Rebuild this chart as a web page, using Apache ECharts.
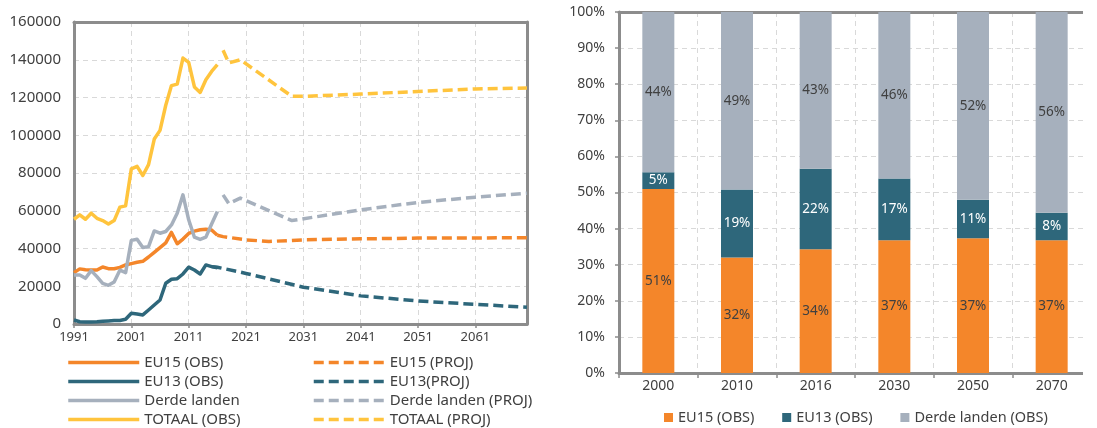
<!DOCTYPE html>
<html><head><meta charset="utf-8">
<script src="https://cdn.jsdelivr.net/npm/echarts@6/dist/echarts.min.js"></script>
<style>html,body{margin:0;padding:0;background:#fff}#c{width:1097px;height:428px}</style>
</head><body><div id="c"></div>
<script>
// ---------- LEFT CHART DATA ----------
const firstYear = 1991, lastYear = 2070;
const years = [];
for (let y = firstYear; y <= lastYear; y++) years.push(String(y));
// observed, yearly 1991..2016
const eu15Obs   = [27200,29200,28800,28600,28600,30200,29300,29300,30000,31300,32000,32700,33200,35500,38000,40500,43000,48500,42500,45000,48000,49200,49900,50200,49800,47000];
const eu13Obs   = [2100,1200,1100,1100,1200,1400,1600,1800,1900,2500,5700,5300,4800,7400,10100,12700,21600,23700,24000,26500,30100,28600,26500,31300,30400,29800];
const derdeObs  = [26000,26000,24200,28300,25100,21500,20500,22300,28500,27200,44300,44900,40500,41000,49300,48100,49000,52500,58700,68400,55200,46000,44800,46000,53000,59600];
const totaalObs = [55500,57800,55500,58700,56000,54800,53000,54800,61900,62600,82200,83500,78700,84400,98000,102600,115900,126300,127100,140900,138600,125600,122700,129400,133800,137400];
// projections [year, value]
const eu15Proj   = [[2016,47000],[2017,46300],[2021,44600],[2025,43700],[2031,44600],[2041,45100],[2051,45500],[2061,45600],[2070,45700]];
const eu13Proj   = [[2015,30400],[2016,30100],[2021,26800],[2031,19500],[2041,14900],[2051,12200],[2061,10400],[2070,8900]];
const derdeProj  = [[2017,68400],[2018,63800],[2020,66700],[2029,54800],[2041,60500],[2051,64400],[2061,67200],[2070,69300]];
const totaalProj = [[2017,145000],[2018,138300],[2020,140000],[2029,120600],[2031,120600],[2041,121800],[2051,123200],[2061,124500],[2070,125000]];
const leftYMax = 160000, leftYStep = 20000;

// ---------- RIGHT CHART DATA ----------
const barCats   = ['2000','2010','2016','2030','2050','2070'];
const eu15Share = [51.0,32.0,34.3,36.8,37.3,36.8];
const eu13Share = [4.6,18.8,22.3,17.1,10.7,7.6];
const derdeShare= [44.4,49.2,43.4,46.1,52.0,55.6];

// ---------- STYLE ----------
const C_ORANGE = '#F4862A', C_TEAL = '#2E677B', C_GRAY = '#A6B0BD', C_YELLOW = '#FFC43D';
const AXIS = '#8C8C8C', GRID = '#D9D9D9', TXT = '#404040';
const FONT = 'Noto Sans';
const DASH = [10, 5];

const toIdx = arr => arr.map(([y, v]) => [y - firstYear, v]);

function lineSeries(name, data, color, dashed) {
  return {
    type: 'line', name, data, xAxisIndex: 0, yAxisIndex: 0,
    symbol: 'none', connectNulls: true, animation: false,
    lineStyle: { color, width: 3.5, type: dashed ? DASH : 'solid', cap: 'butt', join: 'round' },
    itemStyle: { color }
  };
}

const labelFmt = p => Math.round(p.value) + '%';
function barSeries(name, data, color, labelColor) {
  return {
    type: 'bar', name, data, stack: 's', xAxisIndex: 1, yAxisIndex: 1,
    barWidth: 32, animation: false,
    itemStyle: { color },
    label: { show: true, position: 'inside', formatter: labelFmt, color: labelColor, fontSize: 13.5, fontFamily: FONT }
  };
}

const lineLegend = (left, names) => ({
  orient: 'vertical', left, top: 355, height: 100, padding: 0, itemWidth: 71, itemHeight: 10, itemGap: 4,
  data: names,
  textStyle: { color: TXT, fontSize: 15, fontFamily: FONT },
  lineStyle: { width: 3.5 }, itemStyle: { opacity: 0 }, selectedMode: false
});

// frame-only axes (top / right borders)
const frameAxis = (gridIndex, position, extra) => Object.assign({
  type: 'value', gridIndex, position, min: 0, max: 1,
  axisLine: { show: true, onZero: false, lineStyle: { color: AXIS, width: 3 } },
  axisTick: { show: false }, axisLabel: { show: false }, splitLine: { show: false }
}, extra || {});

const chart = echarts.init(document.getElementById('c'), null, { renderer: 'canvas' });
chart.setOption({
  backgroundColor: '#fff',
  textStyle: { fontFamily: FONT },
  grid: [
    { left: 74, top: 22, width: 453, height: 302 },
    { left: 619, top: 12, width: 472, height: 361 }
  ],
  xAxis: [
    { type: 'category', gridIndex: 0, data: years, boundaryGap: false,
      axisLine: { lineStyle: { color: AXIS, width: 3 } },
      axisTick: { show: true, interval: 9, length: 4, lineStyle: { color: AXIS, width: 1.5 } },
      axisLabel: { interval: 9, color: TXT, fontSize: 13, margin: 7, fontFamily: FONT },
      splitLine: { show: true, interval: 9, lineStyle: { color: GRID, type: [5, 4], width: 1 } } },
    { type: 'category', gridIndex: 1, data: barCats,
      axisLine: { lineStyle: { color: AXIS, width: 3 } },
      axisTick: { show: true, length: 5, lineStyle: { color: AXIS, width: 1.5 } },
      axisLabel: { color: TXT, fontSize: 14, margin: 6, fontFamily: FONT },
      splitLine: { show: true, lineStyle: { color: GRID, type: [5, 4], width: 1 } } },
    frameAxis(0, 'top'),
    frameAxis(1, 'top')
  ],
  yAxis: [
    { type: 'value', gridIndex: 0, min: 0, max: leftYMax, interval: leftYStep,
      axisLine: { show: true, lineStyle: { color: AXIS, width: 3 } },
      axisTick: { show: false },
      axisLabel: { color: TXT, fontSize: 15, margin: 13, fontFamily: FONT, formatter: v => String(v) },
      splitLine: { show: true, lineStyle: { color: GRID, type: [5, 4], width: 1 } } },
    { type: 'value', gridIndex: 1, min: 0, max: 100, interval: 10,
      axisLine: { show: true, lineStyle: { color: AXIS, width: 3 } },
      axisTick: { show: true, length: 4, lineStyle: { color: AXIS, width: 1.5 } },
      axisLabel: { color: TXT, fontSize: 14, margin: 14, formatter: '{value}%', fontFamily: FONT },
      splitLine: { show: true, lineStyle: { color: GRID, type: [5, 4], width: 1 } } },
    frameAxis(0, 'right')
  ],
  legend: [
    lineLegend(66.5, ['EU15 (OBS)', 'EU13 (OBS)', 'Derde landen', 'TOTAAL (OBS)']),
    lineLegend(312, ['EU15 (PROJ)', 'EU13(PROJ)', 'Derde landen (PROJ)', 'TOTAAL (PROJ)']),
    { orient: 'horizontal', left: 664, top: 410, padding: 0, itemWidth: 9, itemHeight: 9, itemGap: 24, icon: 'rect',
      data: ['EU15 (OBS) ', 'EU13 (OBS) ', 'Derde landen (OBS)'],
      textStyle: { color: TXT, fontSize: 14.5, fontFamily: FONT }, selectedMode: false }
  ],
  graphic: [
    { type: 'rect', left: 1083, top: 0, shape: { width: 14, height: 428 }, style: { fill: '#fff' }, z: 100 }
  ],
  series: [
    lineSeries('EU15 (OBS)', eu15Obs, C_ORANGE, false),
    lineSeries('EU13 (OBS)', eu13Obs, C_TEAL, false),
    lineSeries('Derde landen', derdeObs, C_GRAY, false),
    lineSeries('TOTAAL (OBS)', totaalObs, C_YELLOW, false),
    lineSeries('EU15 (PROJ)', toIdx(eu15Proj), C_ORANGE, true),
    lineSeries('EU13(PROJ)', toIdx(eu13Proj), C_TEAL, true),
    lineSeries('Derde landen (PROJ)', toIdx(derdeProj), C_GRAY, true),
    lineSeries('TOTAAL (PROJ)', toIdx(totaalProj), C_YELLOW, true),
    barSeries('EU15 (OBS) ', eu15Share, C_ORANGE, TXT),
    barSeries('EU13 (OBS) ', eu13Share, C_TEAL, '#fff'),
    barSeries('Derde landen (OBS)', derdeShare, C_GRAY, TXT)
  ]
});
</script></body></html>
